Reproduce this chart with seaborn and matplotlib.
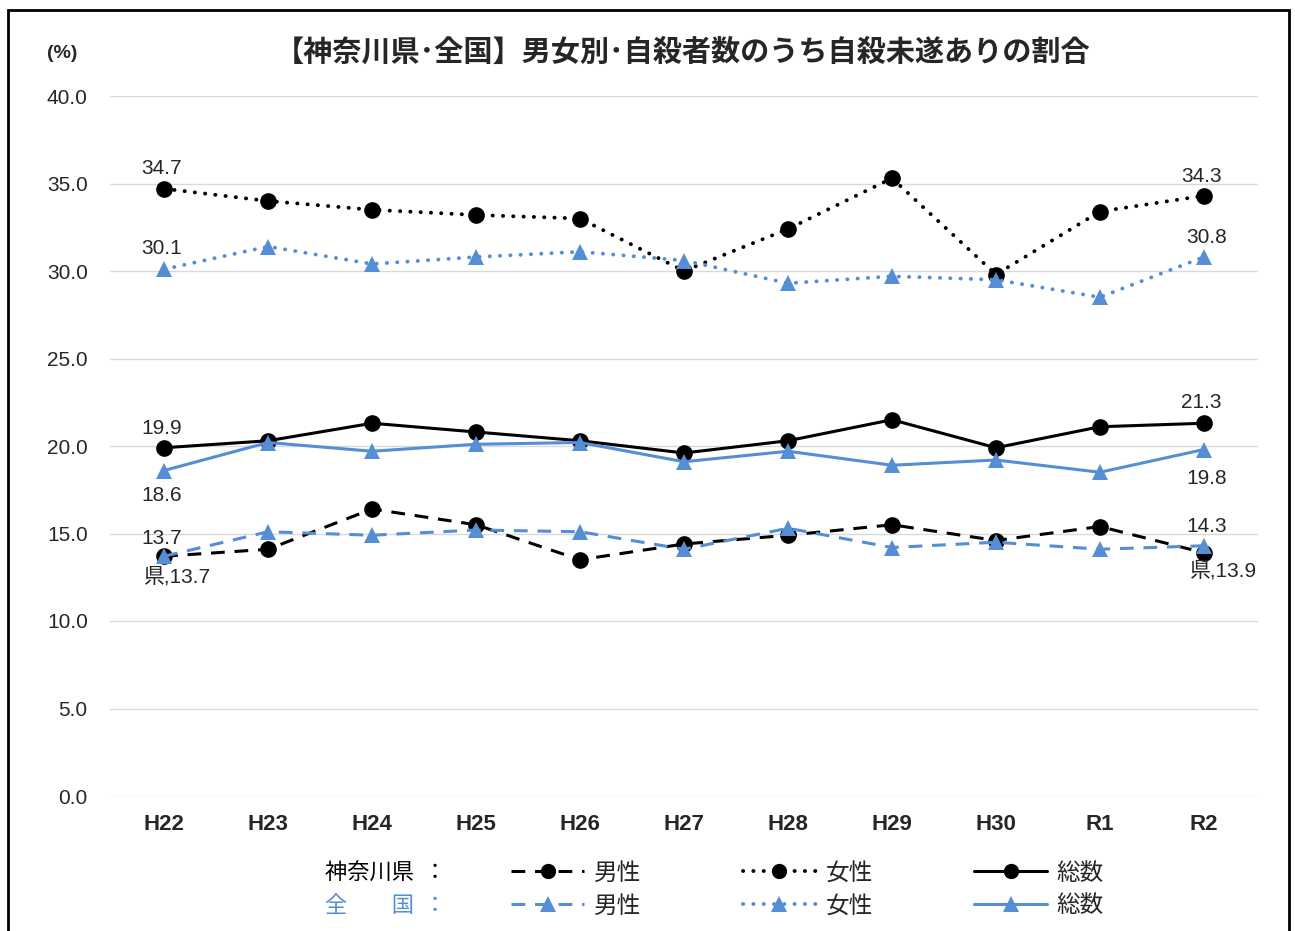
import numpy as np
import pandas as pd
import seaborn as sns
import matplotlib.pyplot as plt
from matplotlib.lines import Line2D
from matplotlib.patches import Rectangle

# 神奈川県・全国 男女別 自殺未遂ありの割合

years = ['H22', 'H23', 'H24', 'H25', 'H26', 'H27', 'H28', 'H29', 'H30', 'R1', 'R2']

kana_male = [13.7, 14.1, 16.4, 15.5, 13.5, 14.4, 14.9, 15.5, 14.6, 15.4, 13.9]
kana_female = [34.7, 34.0, 33.5, 33.2, 33.0, 30.0, 32.4, 35.3, 29.8, 33.4, 34.3]
kana_total = [19.9, 20.3, 21.3, 20.8, 20.3, 19.6, 20.3, 21.5, 19.9, 21.1, 21.3]

zen_male = [13.7, 15.1, 14.9, 15.2, 15.1, 14.1, 15.3, 14.2, 14.5, 14.1, 14.3]
zen_female = [30.1, 31.4, 30.4, 30.8, 31.1, 30.6, 29.3, 29.7, 29.5, 28.5, 30.8]
zen_total = [18.6, 20.2, 19.7, 20.1, 20.2, 19.1, 19.7, 18.9, 19.2, 18.5, 19.8]

BLUE = '#558ed5'

sns.set_style('white')
plt.rcParams['font.family'] = ['Liberation Sans', 'Noto Sans CJK JP', 'DejaVu Sans']

fig = plt.figure(figsize=(12.95, 9.31), dpi=100)
ax = fig.add_axes([110 / 1295, 1 - 796 / 931, (1258 - 110) / 1295, (796 - 96) / 931])

x = np.arange(len(years))
dotted = (0, (0.05, 2.6))
dashed = (0, (4.5, 3.2))

series = [
    (kana_male, 'black', dashed, 'o', 'butt', 2.2),
    (kana_female, 'black', dotted, 'o', 'round', 2.8),
    (kana_total, 'black', '-', 'o', 'butt', 2.2),
    (zen_male, BLUE, dashed, '^', 'butt', 2.2),
    (zen_female, BLUE, dotted, '^', 'round', 2.8),
    (zen_total, BLUE, '-', '^', 'butt', 2.2),
]

for vals, col, ls, mk, cap, lw in series:
    df = pd.DataFrame({'x': x, 'y': vals})
    sns.lineplot(data=df, x='x', y='y', ax=ax, color=col, marker=mk,
                 markersize=12, markeredgewidth=0, linewidth=lw)
    ln = ax.lines[-1]
    ln.set_linestyle(ls)
    ln.set_dash_capstyle(cap)

ax.set_xlim(-0.52, 10.52)
ax.set_ylim(0, 40)
yt = np.arange(0, 40.1, 5)
ax.set_yticks(yt)
ax.set_yticklabels([f'{v:.1f}' for v in yt], fontsize=15)
ax.set_xticks(x)
ax.set_xticklabels(years, fontsize=16, fontweight='bold')
ax.tick_params(axis='y', length=0, pad=16)
ax.tick_params(axis='x', length=0, pad=13)
ax.set_xlabel('')
ax.set_ylabel('')
ax.grid(axis='y', color='#d9d9d9', linewidth=1)
ax.grid(axis='x', visible=False)
for s in ax.spines.values():
    s.set_visible(False)

# data labels at both ends
lab = dict(fontsize=15, ha='center', textcoords='offset points')
ax.annotate('34.7', (0, kana_female[0]), xytext=(-2, 8), va='bottom', **lab)
ax.annotate('30.1', (0, zen_female[0]), xytext=(-2, 8), va='bottom', **lab)
ax.annotate('19.9', (0, kana_total[0]), xytext=(-2, 7), va='bottom', **lab)
ax.annotate('18.6', (0, zen_total[0]), xytext=(-2, -11), va='top', **lab)
ax.annotate('13.7', (0, zen_male[0]), xytext=(-2, 6), va='bottom', **lab)
ax.annotate('県,13.7', (0, kana_male[0]), xytext=(10, -8), va='top', **lab)
ax.annotate('34.3', (10, kana_female[-1]), xytext=(-2, 7), va='bottom', **lab)
ax.annotate('30.8', (10, zen_female[-1]), xytext=(2, 7), va='bottom', **lab)
ax.annotate('21.3', (10, kana_total[-1]), xytext=(-2, 8), va='bottom', **lab)
ax.annotate('19.8', (10, zen_total[-1]), xytext=(2, -14), va='top', **lab)
ax.annotate('14.3', (10, zen_male[-1]), xytext=(2, 7), va='bottom', **lab)
ax.annotate('県,13.9', (10, kana_male[-1]), xytext=(14, -6), va='top', **lab)

fig.text(683 / 1295, 1 - 52 / 931, '【神奈川県･全国】男女別･自殺者数のうち自殺未遂ありの割合',
         ha='center', va='center', fontsize=21, fontweight='bold',
         family=['Noto Sans CJK JP', 'DejaVu Sans'])
fig.text(62 / 1295, 1 - 53 / 931, '(%)', ha='center', va='center', fontsize=14,
         fontweight='bold')

# legend, two rows
labels = ['男性', '女性', '総数']
for col, mk, name, ypx, tcol in [
        ('black', 'o', '神奈川県  ：', 873, 'black'),
        (BLUE, '^', '全　　国  ：', 906, BLUE)]:
    handles = []
    for ls, cap, lw in [(dashed, 'butt', 2.2), (dotted, 'round', 2.8), ('-', 'butt', 2.2)]:
        h = Line2D([], [], color=col, linestyle=ls, marker=mk, markersize=11,
                   markeredgewidth=0, linewidth=lw, dash_capstyle=cap)
        handles.append(h)
    fig.legend(handles, labels, loc='center left', ncol=3,
                bbox_to_anchor=(490 / 1295, 1 - ypx / 931), frameon=False,
                handlelength=3.1, handletextpad=0.4, columnspacing=4.3,
                prop={'family': 'Noto Sans CJK JP', 'size': 17})
    fig.text(325 / 1295, 1 - ypx / 931, name, ha='left', va='center', fontsize=16,
             color=tcol, family=['Noto Sans CJK JP', 'DejaVu Sans'])

# outer frame
fig.add_artist(Rectangle((8 / 1295, -0.02), (1289 - 8) / 1295, 1.02 - 10 / 931,
                         transform=fig.transFigure, fill=False, edgecolor='black',
                         linewidth=2))

fig.savefig('out.png', dpi=100)
